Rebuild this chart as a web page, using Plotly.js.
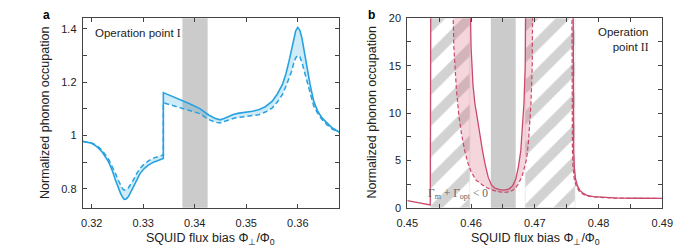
<!DOCTYPE html>
<html><head><meta charset="utf-8">
<script src="https://cdn.plot.ly/plotly-3.0.1.min.js"></script>
<style>html,body{margin:0;padding:0;background:#fff}</style>
</head><body><div id="chart" style="width:691px;height:252px"></div>
<script>
// ---------- Panel a data ----------
const aX = [0.31825,0.3200,0.3210,0.3220,0.3233,0.3240,0.3246,0.3252,0.3256,0.3260,0.3263,0.3267,0.3271,0.3276,0.3281,0.3287,0.3294,0.3302,0.3310,0.3320,0.3330,0.3339,0.3339,0.3350,0.3362,0.3375,0.3390,0.3410,0.3427,0.3440,0.3449,0.3457,0.3466,0.3476,0.3486,0.3500,0.3512,0.3524,0.3537,0.3550,0.3560,0.3570,0.3577,0.3583,0.3588,0.3592,0.3596,0.3600,0.3604,0.3608,0.3613,0.3618,0.3624,0.3631,0.3639,0.3647,0.3657,0.3667,0.3680];
const aSolid = [0.978,0.971,0.958,0.939,0.900,0.868,0.833,0.800,0.783,0.768,0.760,0.762,0.770,0.788,0.808,0.834,0.858,0.876,0.889,0.900,0.908,0.914,1.161,1.152,1.143,1.133,1.119,1.101,1.077,1.064,1.059,1.064,1.072,1.080,1.084,1.087,1.091,1.097,1.108,1.128,1.155,1.191,1.232,1.279,1.325,1.366,1.393,1.406,1.395,1.366,1.310,1.253,1.190,1.128,1.090,1.066,1.045,1.028,1.013];
const aDashed = [0.978,0.972,0.962,0.945,0.910,0.885,0.858,0.830,0.812,0.800,0.795,0.797,0.803,0.817,0.833,0.856,0.877,0.893,0.905,0.915,0.922,0.927,1.123,1.116,1.109,1.102,1.094,1.082,1.060,1.050,1.047,1.052,1.060,1.065,1.068,1.071,1.074,1.078,1.088,1.103,1.125,1.153,1.185,1.215,1.241,1.270,1.292,1.301,1.296,1.275,1.240,1.200,1.155,1.110,1.082,1.060,1.040,1.024,1.012];
const aBand = [0.3376, 0.3425];

// ---------- Panel b data ----------
const bLeftX = [0.4500, 0.4536, 0.4537];
const bLeftY = [0.75, 0.30, 26];
const bUSolidX = [0.45975,0.4600,0.4603,0.4606,0.4609,0.4613,0.4618,0.4622,0.4627,0.4632,0.4638,0.4645,0.4652,0.4659,0.4665,0.4670,0.4674,0.4678,0.4681,0.4683,0.4685,0.4686];
const bUSolidY = [26,17,13,11,9.8,8,6,4.6,3.2,2.4,2.05,1.9,1.85,1.95,2.3,3.0,4.2,6.0,8.5,11,15,26];
const bUDashX = [0.4570,0.4573,0.4577,0.4581,0.4585,0.4590,0.4595,0.4600,0.4608,0.4615,0.4622,0.4630,0.4640,0.4652,0.4662,0.4669,0.4674,0.4680,0.4684,0.4687,0.4690,0.4692,0.4694,0.4696,0.4697];
const bUDashY = [26,17,12.5,9.6,7.8,6.0,4.75,3.8,2.9,2.5,2.2,1.95,1.72,1.6,1.7,2.0,2.5,3.3,4.3,5.1,6.8,8.6,11,15,26];
const bRSolidX = [0.4760,0.47605,0.4761,0.4762,0.4764,0.4767,0.4771,0.4776,0.4782,0.4792,0.4805,0.4825,0.4860,0.4900];
const bRSolidY = [26,12,6,4.2,3.0,2.3,1.8,1.52,1.3,1.16,1.08,1.03,1.0,0.98];
const bRDashX = [0.4758,0.47585,0.4759,0.4760,0.4762,0.4765,0.4769,0.4774,0.4780,0.4790,0.4803,0.4823,0.4858,0.4900];
const bRDashY = [26,12,6,4.2,3.0,2.3,1.8,1.50,1.28,1.14,1.06,1.01,0.99,0.97];
const bUnstableStart = [0.4537, 0.4685];
const bUnstableEnd = [0.4598, 0.4763];
const bBand = [0.4631, 0.4670];

const blue = '#27a2df', blueFill = 'rgba(39,162,223,0.22)';
const red = '#c9496c', redFill = 'rgba(215,90,120,0.25)';
const W = 691, H = 252;
const px = v => v / W, py = v => 1 - v / H;

const traces = [];
// panel a
traces.push({x:aX, y:aDashed, xaxis:'x', yaxis:'y', mode:'lines', line:{color:blue, width:1.5, dash:'5px,3px'}, hoverinfo:'skip'});
traces.push({x:aX, y:aSolid, xaxis:'x', yaxis:'y', mode:'lines', line:{color:blue, width:1.6}, fill:'tonexty', fillcolor:blueFill, hoverinfo:'skip'});

// panel b hatch regions
for (let i = 0; i < bUnstableStart.length; i++) {
  const s = bUnstableStart[i], e = bUnstableEnd[i];
  traces.push({x:[s,e,e,s,s], y:[0,0,20,20,0], xaxis:'x2', yaxis:'y2', mode:'lines', line:{width:0.6, color:'#dddddd'},
    fill:'toself', fillcolor:'white', fillpattern:{shape:'/', fgcolor:'#d2d2d2', bgcolor:'white', size:22, solidity:0.45}, hoverinfo:'skip'});
}
// pink fills
traces.push({x:bUDashX.concat(bUSolidX.slice().reverse()), y:bUDashY.concat(bUSolidY.slice().reverse()), xaxis:'x2', yaxis:'y2', mode:'none', fill:'toself', fillcolor:redFill, hoverinfo:'skip'});
traces.push({x:bRDashX.concat(bRSolidX.slice().reverse()), y:bRDashY.concat(bRSolidY.slice().reverse()), xaxis:'x2', yaxis:'y2', mode:'none', fill:'toself', fillcolor:redFill, hoverinfo:'skip'});
// lines
traces.push({x:bUDashX.concat([null], bRDashX), y:bUDashY.concat([null], bRDashY), xaxis:'x2', yaxis:'y2', mode:'lines', line:{color:red, width:1.2, dash:'4px,2.5px'}, connectgaps:false, hoverinfo:'skip'});
traces.push({x:bLeftX.concat([null], bUSolidX, [null], bRSolidX), y:bLeftY.concat([null], bUSolidY, [null], bRSolidY), xaxis:'x2', yaxis:'y2', mode:'lines', line:{color:red, width:1.3}, connectgaps:false, hoverinfo:'skip'});

const axFont = {family:'Liberation Sans, Arial, sans-serif', size:11, color:'#222'};
const common = {showline:true, linecolor:'#444', linewidth:1, mirror:'ticks', ticks:'inside', ticklen:4, tickcolor:'#444', tickwidth:1, showgrid:false, zeroline:false, tickfont:axFont, fixedrange:true};

const yDom = [1 - 207.7/H, 1 - 18.3/H];
const layout = {
  width:W, height:H, margin:{l:0, r:0, t:0, b:0}, paper_bgcolor:'white', plot_bgcolor:'white', showlegend:false,
  xaxis: Object.assign({}, common, {domain:[82.7/W, 339/W], range:[0.31825, 0.368], tickvals:[0.32,0.33,0.34,0.35,0.36], ticktext:['0.32','0.33','0.34','0.35','0.36'], ticklabelstandoff:5, anchor:'y'}),
  yaxis: Object.assign({}, common, {domain:yDom, range:[0.729, 1.44], tickvals:[0.8,1.0,1.2,1.4], ticktext:['0.8','1','1.2','1.4'], ticklabelstandoff:3, minor:{dtick:0.1, tick0:0, ticks:'inside', ticklen:4, tickcolor:'#444'}, anchor:'x'}),
  xaxis2: Object.assign({}, common, {domain:[407.3/W, 662.3/W], range:[0.45, 0.49], tickvals:[0.45,0.46,0.47,0.48,0.49], ticktext:['0.45','0.46','0.47','0.48','0.49'], ticklabelstandoff:5, minor:{dtick:0.005, tick0:0.45, ticks:'inside', ticklen:4, tickcolor:'#444'}, anchor:'y2'}),
  yaxis2: Object.assign({}, common, {domain:yDom, range:[0, 20], tickvals:[0,5,10,15,20], ticklabelstandoff:3, minor:{dtick:2.5, tick0:0, ticks:'inside', ticklen:4, tickcolor:'#444'}, anchor:'x2'}),
  shapes: [
    {type:'rect', xref:'x', yref:'y domain', x0:aBand[0], x1:aBand[1], y0:0, y1:1, fillcolor:'#cbcbcb', line:{width:0}, layer:'below'},
    {type:'rect', xref:'x2', yref:'y2 domain', x0:bBand[0], x1:bBand[1], y0:0, y1:1, fillcolor:'#cbcbcb', line:{width:0}, layer:'below'}
  ],
  annotations: [
    {text:'<b>a</b>', x:px(46), y:py(15), xanchor:'center', yanchor:'middle', xref:'paper', yref:'paper', showarrow:false, font:{family:'Liberation Sans, Arial', size:12, color:'#000'}},
    {text:'<b>b</b>', x:px(371), y:py(15), xanchor:'center', yanchor:'middle', xref:'paper', yref:'paper', showarrow:false, font:{family:'Liberation Sans, Arial', size:12, color:'#000'}},
    {text:'Normalized phonon occupation', x:px(45), y:py(113), xanchor:'center', yanchor:'middle', xref:'paper', yref:'paper', showarrow:false, textangle:-90, font:{family:'Liberation Sans, Arial', size:12.5, color:'#222'}},
    {text:'Normalized phonon occupation', x:px(371.5), y:py(113), xanchor:'center', yanchor:'middle', xref:'paper', yref:'paper', showarrow:false, textangle:-90, font:{family:'Liberation Sans, Arial', size:12.5, color:'#222'}},
    {text:'SQUID flux bias Φ<sub>⊥</sub>/Φ<sub>0</sub>', x:px(211), y:py(239), xanchor:'center', yanchor:'middle', xref:'paper', yref:'paper', showarrow:false, font:{family:'Liberation Sans, Arial', size:12.5, color:'#222'}},
    {text:'SQUID flux bias Φ<sub>⊥</sub>/Φ<sub>0</sub>', x:px(535), y:py(239), xanchor:'center', yanchor:'middle', xref:'paper', yref:'paper', showarrow:false, font:{family:'Liberation Sans, Arial', size:12.5, color:'#222'}},
    {text:'Operation point <span style="font-family:Liberation Serif">I</span>', x:px(93), y:py(32.5), xanchor:'left', yanchor:'middle', xref:'paper', yref:'paper', showarrow:false, font:{family:'Liberation Sans, Arial', size:11.5, color:'#222'}},
    {text:'Operation<br>point <span style="font-family:Liberation Serif">II</span>', x:px(651), y:py(39), xanchor:'right', yanchor:'middle', align:'right', xref:'paper', yref:'paper', showarrow:false, font:{family:'Liberation Sans, Arial', size:11.5, color:'#222'}},
    {text:'Γ<sub>m</sub> + Γ<sub>opt</sub> &lt; 0', x:px(458), y:py(194), xanchor:'center', yanchor:'middle', xref:'paper', yref:'paper', showarrow:false, font:{family:'Liberation Serif, serif', size:11.5, color:'#666'}}
  ]
};
Plotly.newPlot('chart', traces, layout, {staticPlot:true, displayModeBar:false});
</script></body></html>
